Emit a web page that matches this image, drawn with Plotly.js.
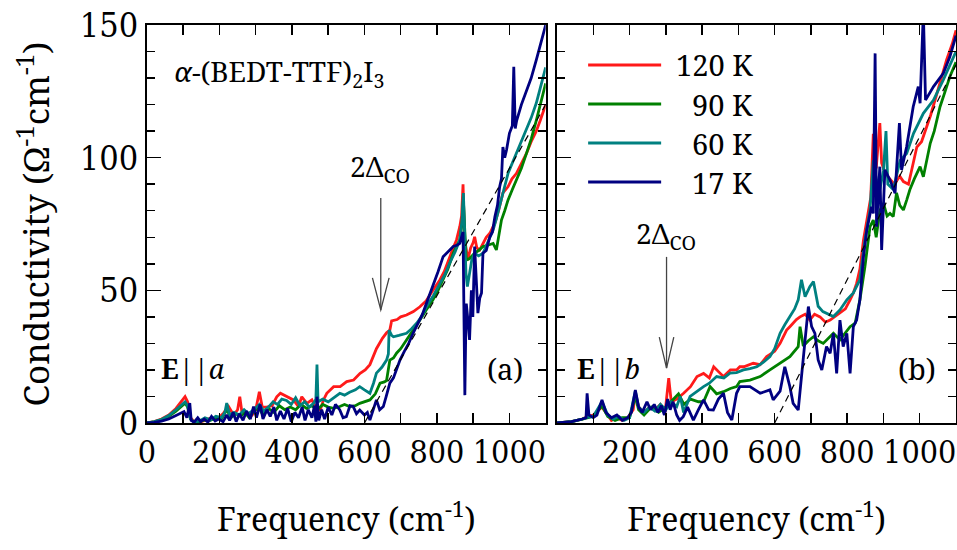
<!DOCTYPE html>
<html>
<head>
<meta charset="utf-8">
<script src="https://cdn.plot.ly/plotly-3.0.1.min.js"></script>
<style>html,body{margin:0;padding:0;background:#fff;}#chart{width:957px;height:550px;}</style>
</head>
<body>
<div id="chart"></div>
<script>
// ---------- DATA ----------
var seriesNames = ["120 K", "90 K", "60 K", "17 K"];
var seriesColors = ["#ff1a1a", "#008000", "#008080", "#000080"];

var freqA_120 = [0,20,40,60,80,95,105,112,120,130,145,160,175,190,202,211,225,239,250,256,262,275,290,300,310,318,330,345,358,368,386,404,418,427,441,455,464,478,487,496,515,533,551,570,588,602,615,625,633,650,661,670,675,690,700,716,735,753,770,789,808,820,835,845,854,863,868,872,876,881,885,893,900,904,910,918,927,936,946,960,970,982,996,1007,1019,1033,1047,1060,1074,1085,1100];
var sigA_120  = [0,0.5,1.5,3,5.5,8,9.9,8,2,0.5,0.3,1,1.8,1.5,2.5,3.7,6.2,3,5,9.9,4,3.5,3,5,11.8,6,6,6.5,9.9,11.2,9.9,8.7,6.2,9.9,7.4,8.7,6.2,4.9,8.7,11.2,13.7,13.7,15.6,16.2,18.7,20,22,25,28,32,34,35,38.5,39,40,40.7,42,43.8,46,50,53.9,57,62.7,66,69,74,78,90,70,64,61.4,66,68,70.2,66,65.2,67.7,70,71.5,75.4,80,86.7,89,92,94,98,101.6,106,110,114,120];
var freqA_90 = [0,20,40,60,80,95,105,112,120,130,145,160,175,190,205,220,232,245,258,270,282,295,308,320,335,350,365,380,395,410,425,440,455,470,485,500,515,532,545,559,575,587,600,615,630,643,655,661,670,680,689,700,716,735,753,770,789,803,817,830,845,855,863,869,873,877,881,890,904,915,927,940,955,964,970,978,987,996,1008,1019,1033,1047,1060,1074,1085,1100];
var sigA_90  = [0,0.4,1.2,2.5,4.5,6.5,7.5,6,1.5,0.3,0.5,1.2,1,2,1.5,5,2,3.5,2.5,4,2,4.5,6,3,5.5,4,6.5,5,6,5,7,5.5,6.5,5,7,6,5.5,6.2,7,6.2,6.5,7.4,8,8.7,11,15,15.5,16,23.7,24.5,26.4,28,31.3,35,38.8,42.5,46.4,50,53.9,58,64,67,69,75,84,72,61.4,62,64,65,66.5,67,67.7,65.2,70,76.5,80,84,88,91.6,96,101.6,107,114,120,128];
var freqA_60 = [0,20,40,60,80,95,105,112,120,130,145,160,175,190,205,215,220,228,240,255,268,280,295,310,322,335,348,360,372,385,398,410,422,435,448,460,466,469,472,485,500,515,532,545,559,575,587,600,615,625,633,648,661,666,668,675,680,695,705,716,730,744,757,771,790,808,822,835,850,863,869,873,877,880,884,890,896,904,915,927,940,955,964,973,985,996,1008,1019,1033,1047,1060,1074,1085,1100];
var sigA_60  = [0,0.5,1.3,2.8,5,7,8,6.5,1.5,0.3,0.8,2,1.2,2.5,2,4,7.5,3,4,3,5,3.5,5,7,4.5,6,8,7,9,8.5,7,9.5,6.5,8,6,7.5,9,22,8,9,8,9.5,11.2,10.5,11.6,12.5,13.7,12.5,11.2,15,18.8,21,23.7,26,35,33,32.5,33,33.5,33.8,35.5,37.6,40,43.8,48,52.7,56,60.2,64.5,69,76,86.7,70,56.5,51.4,57,61.4,64,63,64,68,72.7,77,81.5,88,94,98,101.6,106,110.4,115,120.5,126,134];
var freqA_17 = [0,20,40,60,80,95,102,110,118,122,130,140,148,158,168,178,188,198,210,220,228,238,246,255,265,275,285,294,302,312,320,331,340,350,358,368,378,388,398,408,418,428,436,445,455,462,466,469,474,482,490,500,510,520,532,541,550,560,569,578,587,600,608,615,625,633,642,652,660,670,680,690,698,710,722,734,750,760,771,789,803,817,830,845,855,863,872,875,877,879,881,886,890,895,899,904,909,913,918,923,927,936,946,953,960,967,973,978,982,987,992,1000,1008,1012,1016,1020,1033,1047,1060,1074,1085,1100];
var sigA_17  = [0,0.2,0.7,1.5,2.8,3.8,4.3,2,7.5,1,0.3,2,0.5,1.5,0.3,2.5,0.8,1.5,0.5,3,1,4,0.5,3.5,1,4.5,1.5,6.2,2,7,1.5,5,2.5,6,1,4.5,1.5,5.5,0.5,4,2,6,1,5,2,6.5,0.5,9.9,1,5,1.5,6,3,7,4.9,2,2.4,6.5,6.2,3.5,4.9,3,4,1.1,5,8.7,5,6.2,10,15,17,21,23.7,27,30,33.8,38.5,41,45.1,51.4,57,62.7,64.5,66.5,67,67.7,72,40,10.5,30,45,38,31.3,50,40,66.5,55,41.4,47,49,64,65,70.2,72,77.8,82,89,92,104,100,102.9,109.2,112,134.3,111,114,120,125.5,130,136.8,142,150];

var freqB_120 = [0,40,70,85,100,124,140,150,165,180,195,210,216,225,240,255,270,285,298,308,315,330,349,368,386,404,420,432,450,459,478,495,504,515,541,560,578,600,615,633,642,660,670,684,697,710,725,740,753,765,780,795,808,817,826,835,845,858,865,872,880,890,895,905,918,930,945,955,969,980,992,1005,1019,1030,1047,1060,1074,1090,1100];
var sigB_120  = [0,0.5,1.5,2.5,3,6,3,1,2,1,2,5,11,6,4,6,5,7,4,16.9,8,9,11.2,13.7,17.5,18.7,17,21.2,18.7,17.5,20,20,21.2,21.2,22.5,22,25,27,30,35,36.3,39,40,41,38.8,41,40,38,38.8,40,41.3,43,46.4,49,52.6,58,69,79,85,109,96,113,98,94,92,90,93,91,90,97,104,106,111.7,116,124,130,136.8,143,148];
var freqB_90 = [0,40,70,85,100,124,140,160,180,200,216,225,240,260,280,300,320,335,350,368,390,404,422,440,459,478,495,504,532,560,587,615,642,665,670,679,693,707,720,734,748,762,780,795,808,822,835,849,863,872,880,890,900,910,918,927,936,945,955,964,973,985,1001,1010,1020,1029,1040,1056,1070,1083,1100];
var sigB_90  = [0,0.5,1.5,2,2.5,6.5,2.5,1,2,2,10,5,3,6,4,6,9,11,7,9,8,8,13.7,11,11.8,13,13.7,15.6,16.2,17.5,20,22.5,25,28.8,36.3,29,31,32.5,31,30,32,33.8,31.3,34,36.3,37.6,46.4,59,74,76.5,70,80,82.9,78,79,77.8,86.7,82,80.3,84,88,92,96.6,92.8,100,105.4,110,119.2,125,130.5,136];
var freqB_60 = [0,40,70,85,100,124,140,155,170,185,200,216,225,240,255,270,285,300,315,330,340,349,367,386,404,420,440,460,477,495,514,532,551,570,587,600,615,628,642,655,665,674,684,697,707,720,733,743,762,780,799,817,835,849,863,872,880,890,900,907,912,927,946,964,983,1010,1038,1065,1100];
var sigB_60  = [0,0.5,1.5,2.2,2.5,8,3,1.5,2.5,1,2,12,6,4,6,4.5,7,5,8,6.2,10,4,10,12,13.7,15,17.5,17,18.8,19,20,20.5,21.2,23,25,28,33.8,37,40.1,43,46.4,54,47.6,51.4,53.3,44,42,41.3,40.1,42.6,46.4,49,54,69,80.3,99,92,88,95,110,90,88,99,101.6,109.2,116.7,121.7,129.3,140];
var freqB_17 = [0,40,70,80,83,88,100,110,124,135,150,165,180,195,205,216,225,235,248,258,268,278,288,296,305,312,320,330,338,348,360,376,390,404,418,431,445,459,470,482,495,504,532,560,587,596,615,628,642,651,665,674,684,693,702,711,720,730,743,753,762,771,780,789,799,808,817,826,835,845,854,867,872,877,881,890,895,904,918,932,944,950,964,982,996,1001,1010,1016,1038,1065,1083,1100];
var sigB_17  = [0,0.5,1.5,2,11.2,3,2,3,8.7,4,2,3,1,2,4,12.4,6,4,8,5,7,4,6.5,3,9,5,8,3,1,2.4,6,1.1,5,8.7,5,4.9,9,11.2,4,1.1,11.2,13.7,13.7,11.2,12.5,8.7,12,21.2,13.7,7.4,4.9,18.7,31.3,43.9,36.3,33.8,23.8,20,28.8,26.3,33.8,18.7,38.8,28.8,33.8,18.7,36.3,38.8,46.4,62.7,72.7,81.5,79,139.3,74,96.6,65.2,95.4,91.6,86.6,113,95.4,104.2,119.2,126.8,120.5,155,121.7,126.8,131.8,138,146];

var fitA_freq = [600, 1100];
var fitA_sig  = [0, 120];
var fitB_freq = [600, 1100];
var fitB_sig  = [0, 135];

var ticksA = [0, 200, 400, 600, 800, 1000];
var ticksB = [200, 400, 600, 800, 1000];

// ---------- PLOT ----------
var F_TICK = "DejaVu Serif Condensed, Noto Serif";
var FONT = "Noto Serif, DejaVu Serif";

var traces = [];
var panelA = [[freqA_120, sigA_120], [freqA_90, sigA_90], [freqA_60, sigA_60], [freqA_17, sigA_17]];
var panelB = [[freqB_120, sigB_120], [freqB_90, sigB_90], [freqB_60, sigB_60], [freqB_17, sigB_17]];
panelA.forEach(function (s, i) {
  traces.push({x: s[0], y: s[1], type: "scatter", mode: "lines", name: seriesNames[i],
    line: {color: seriesColors[i], width: 2.8}, xaxis: "x", yaxis: "y", showlegend: false, hoverinfo: "skip"});
});
panelB.forEach(function (s, i) {
  traces.push({x: s[0], y: s[1], type: "scatter", mode: "lines", name: seriesNames[i],
    line: {color: seriesColors[i], width: 2.8}, xaxis: "x2", yaxis: "y2", showlegend: false, hoverinfo: "skip"});
});
traces.push({x: fitA_freq, y: fitA_sig, type: "scatter", mode: "lines", xaxis: "x", yaxis: "y",
  line: {color: "#000", width: 1.2, dash: "7px,5px"}, showlegend: false, hoverinfo: "skip"});
traces.push({x: fitB_freq, y: fitB_sig, type: "scatter", mode: "lines", xaxis: "x2", yaxis: "y2",
  line: {color: "#000", width: 1.2, dash: "7px,5px"}, showlegend: false, hoverinfo: "skip"});

function xAxis(domain, vals) {
  return {domain: domain, range: [0, 1100], tickmode: "array", tickvals: vals, ticktext: vals.map(String),
    ticks: "inside", ticklen: 10, tickwidth: 1.5, tickcolor: "#000", ticklabeloverflow: "allow",
    minor: {dtick: 100, tick0: 0, ticks: "inside", ticklen: 10, tickwidth: 1.5, tickcolor: "#000", showgrid: false},
    showline: true, linecolor: "#000", linewidth: 2, mirror: "ticks", showgrid: false, zeroline: false,
    tickfont: {family: F_TICK, size: 32, color: "#000"},
    title: {text: "Frequency (cm<sup>-1</sup>)", font: {family: FONT, size: 32, color: "#000"}, standoff: 38}};
}
function yAxis(anchor, labels) {
  return {anchor: anchor, range: [0, 150], dtick: 50, tick0: 0, ticks: "inside", ticklen: 14, tickwidth: 1.5, tickcolor: "#000",
    minor: {dtick: 10, tick0: 0, ticks: "inside", ticklen: 8, tickwidth: 1.5, tickcolor: "#000", showgrid: false},
    showline: true, linecolor: "#000", linewidth: 2, mirror: "ticks", showgrid: false, zeroline: false,
    showticklabels: labels, tickfont: {family: F_TICK, size: 34, color: "#000"}};
}

var layout = {
  width: 957, height: 550,
  margin: {l: 147, r: 1, t: 25, b: 127},
  paper_bgcolor: "#fff", plot_bgcolor: "#fff",
  font: {family: FONT, color: "#000"},
  showlegend: false,
  xaxis: xAxis([0, 0.4928], ticksA),
  xaxis2: xAxis([0.5068, 1], ticksB),
  yaxis: Object.assign(yAxis("x", true), {title: {text: "Conductivity (Ω<sup>-1</sup>cm<sup>-1</sup>)", font: {family: FONT, size: 35, color: "#000"}, standoff: 20}}),
  yaxis2: yAxis("x2", false),
  annotations: [],
  shapes: []
};

var txt = function (s, x, y, xr, yr, size, xa) {
  layout.annotations.push({text: s, x: x, y: y, xref: xr, yref: yr, showarrow: false,
    xanchor: xa || "center", yanchor: "middle", font: {family: FONT, size: size, color: "#000"}});
};
txt("<i>α</i>-(BEDT-TTF)<sub>2</sub>I<sub>3</sub>", 69, 132, "x", "y", 28, "left");
txt("2Δ<sub>CO</sub>", 642, 96, "x", "y", 28);
txt("2Δ<sub>CO</sub>", 300, 71, "x2", "y2", 28);
txt("<b>E</b>||<i>a</i>", 127, 20.5, "x", "y", 27);
txt("<b>E</b>||<i>b</i>", 141, 20.5, "x2", "y2", 27);
txt("(a)", 987, 20.5, "x", "y", 29);
txt("(b)", 992, 20.5, "x2", "y2", 29);

var arrows = [
  {xr: "x", yr: "y", x: 645, y0: 84.8, y1: 42.6, vy: 54.7, hw: 23},
  {xr: "x2", yr: "y2", x: 302, y0: 62.6, y1: 20.7, vy: 32.4, hw: 20}
];
arrows.forEach(function (a) {
  layout.shapes.push({type: "line", xref: a.xr, yref: a.yr, x0: a.x, x1: a.x, y0: a.y0, y1: a.y1, line: {color: "#444", width: 1.3}});
  layout.shapes.push({type: "path", xref: a.xr, yref: a.yr,
    path: "M" + (a.x - a.hw) + "," + a.vy + " L" + a.x + "," + a.y1 + " L" + (a.x + a.hw) + "," + a.vy,
    line: {color: "#444", width: 1.3}});
});

var legY = [0.8995, 0.8015, 0.7035, 0.6055];
seriesNames.forEach(function (n, i) {
  layout.shapes.push({type: "line", xref: "x2 domain", yref: "y2 domain", x0: 0.078, x1: 0.261, y0: legY[i], y1: legY[i],
    line: {color: seriesColors[i], width: 2.8}});
  layout.annotations.push({text: n, x: 0.497, y: legY[i], xref: "x2 domain", yref: "y2 domain", showarrow: false,
    xanchor: "right", yanchor: "middle", font: {family: FONT, size: 29, color: "#000"}});
});

Plotly.newPlot("chart", traces, layout, {staticPlot: true, displayModeBar: false});
</script>
</body>
</html>
